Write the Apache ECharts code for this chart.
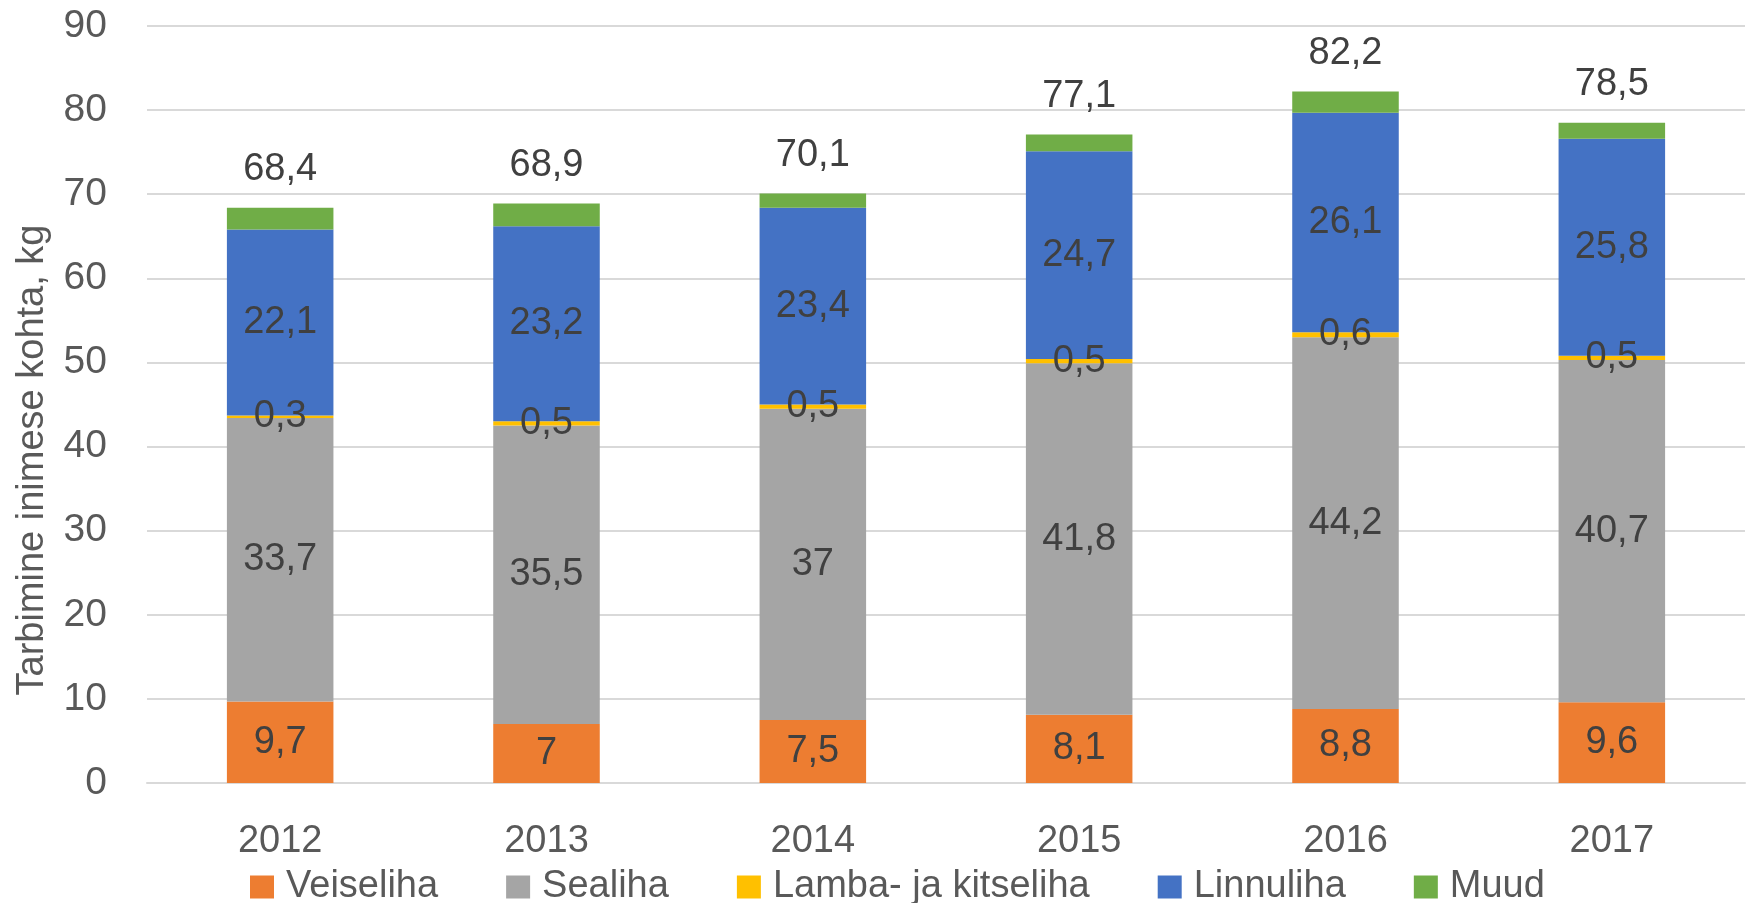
<!DOCTYPE html>
<html>
<head>
<meta charset="utf-8">
<script src="https://cdn.jsdelivr.net/npm/echarts@6/dist/echarts.min.js"></script>
<style>
html,body{margin:0;padding:0;background:#fff;}
#c{width:1749px;height:903px;}
</style>
</head>
<body>
<div id="c"></div>
<script>
const categories = ['2012','2013','2014','2015','2016','2017'];
const veiseliha = [9.7, 7, 7.5, 8.1, 8.8, 9.6];
const sealiha = [33.7, 35.5, 37, 41.8, 44.2, 40.7];
const lamba = [0.3, 0.5, 0.5, 0.5, 0.6, 0.5];
const linnuliha = [22.1, 23.2, 23.4, 24.7, 26.1, 25.8];
const muud = [2.6, 2.7, 1.7, 2.0, 2.5, 1.9];
const totals = [68.4, 68.9, 70.1, 77.1, 82.2, 78.5];
const yTicks = [0, 10, 20, 30, 40, 50, 60, 70, 80, 90];

const FONT = '"Liberation Sans", Arial, sans-serif';
const fmt = v => String(v).replace('.', ',');

const labelInside = {
  show: true, position: 'inside', color: '#404040', fontSize: 38, fontFamily: FONT,
  formatter: p => fmt(p.value)
};

function mk(name, data, color, label) {
  return {
    name, type: 'bar', stack: 'total', data, barWidth: '40%',
    itemStyle: { color },
    label: label,
    emphasis: { disabled: true }
  };
}

const chart = echarts.init(document.getElementById('c'), null, { renderer: 'canvas' });
chart.setOption({
  animation: false,
  backgroundColor: '#fff',
  grid: { left: 147, right: 4, top: 26, bottom: 120, containLabel: false },
  legend: {
    data: ['Veiseliha', 'Sealiha', 'Lamba- ja kitseliha', 'Linnuliha', 'Muud'],
    left: 245, top: 863,
    itemWidth: 24, itemHeight: 23, itemGap: 68,
    icon: 'rect',
    textStyle: { color: '#595959', fontSize: 38, fontFamily: FONT, padding: [0, 0, 0, 7] }
  },
  xAxis: {
    type: 'category', data: categories,
    axisLine: { lineStyle: { color: '#D9D9D9', width: 2 } },
    axisTick: { show: false },
    axisLabel: { color: '#595959', fontSize: 38, fontFamily: FONT, margin: 40 }
  },
  yAxis: {
    type: 'value', min: yTicks[0], max: yTicks[yTicks.length - 1], interval: 10,
    axisLine: { show: false }, axisTick: { show: false },
    splitLine: { lineStyle: { color: '#D9D9D9', width: 2 } },
    axisLabel: { color: '#595959', fontSize: 39, fontFamily: FONT, margin: 40 }
  },
  graphic: [{
    type: 'text', x: 33, y: 460, rotation: Math.PI / 2,
    style: {
      text: 'Tarbimine inimese kohta, kg', fill: '#595959', fontSize: 38, fontFamily: FONT,
      textAlign: 'center', textVerticalAlign: 'middle'
    }
  }],
  series: [
    mk('Veiseliha', veiseliha, '#ED7D31', labelInside),
    mk('Sealiha', sealiha, '#A5A5A5', labelInside),
    mk('Lamba- ja kitseliha', lamba, '#FFC000', labelInside),
    mk('Linnuliha', linnuliha, '#4472C4', labelInside),
    mk('Muud', muud, '#70AD47', {
      show: true, position: 'top', distance: 19, color: '#404040', fontSize: 38, fontFamily: FONT,
      formatter: p => fmt(totals[p.dataIndex])
    })
  ]
});
</script>
</body>
</html>
